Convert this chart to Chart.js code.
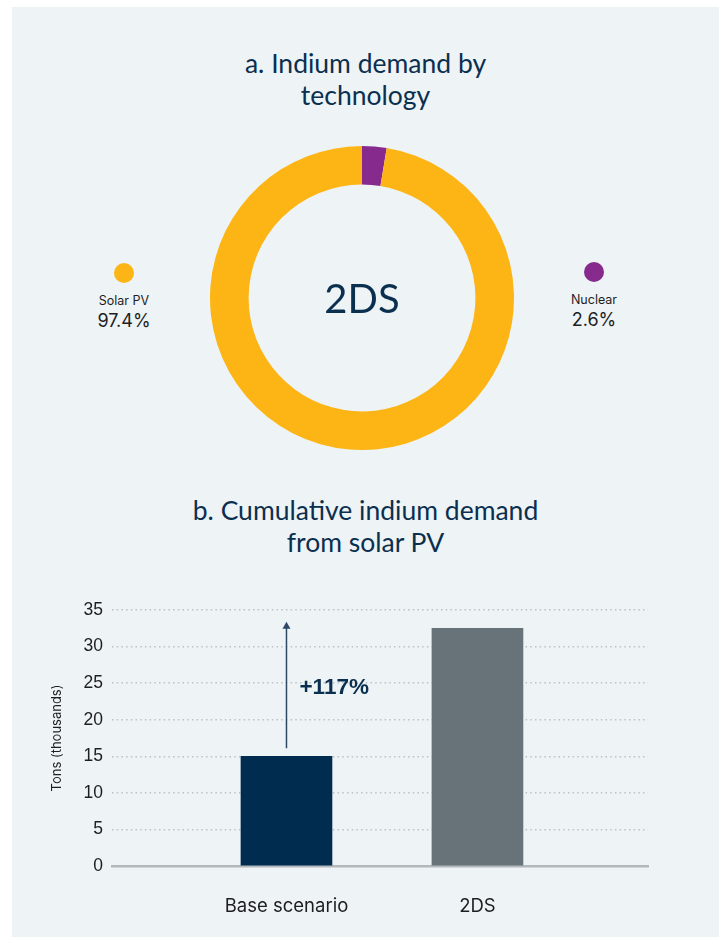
<!DOCTYPE html>
<html>
<head>
<meta charset="utf-8">
<script src="https://cdn.jsdelivr.net/npm/chart.js@4"></script>
<style>
  body { margin: 0; background: #fff; width: 719px; height: 937px; overflow: hidden; }
  #panel { position: absolute; left: 12px; top: 7px; width: 707px; height: 930px; background: #eef3f6; }
  .title { position: absolute; left: 0; width: 707px; text-align: center; font-family: Lato, sans-serif;
           font-size: 26.5px; line-height: 32px; color: #0b2f4f; }
  #donutWrap { position: absolute; left: 198px; top: 139px; width: 304px; height: 304px; }
  #centerText { position: absolute; left: 198px; top: 139px; width: 304px; height: 304px; line-height: 304px;
                text-align: center; font-family: Lato, sans-serif; font-size: 40px; color: #0b2f4f; }
  .leg { position: absolute; width: 120px; text-align: center; font-family: Inter, sans-serif; color: #1e1e1e; }
  .leg .dot { width: 20px; height: 20px; border-radius: 50%; margin: 0 auto; }
  .leg .name { font-size: 12.5px; margin-top: 10px; line-height: 16px; }
  .leg .pct { font-size: 18px; line-height: 22px; margin-top: 1px; }
  #barWrap { position: absolute; left: 0; top: 583px; width: 707px; height: 347px; }
</style>
</head>
<body>
<div id="panel">
  <div class="title" style="top:40px">a. Indium demand by<br>technology</div>
  <div id="donutWrap"><canvas id="donutChart"></canvas></div>
  <div id="centerText">2DS</div>
  <div id="legends"></div>
  <div class="title" style="top:487px">b. Cumulative indium demand<br>from solar PV</div>
  <div id="barWrap"><canvas id="barChart"></canvas></div>
</div>
<script>
// chart a: share of indium demand by technology, 2DS (%)
const techLabels = ['Nuclear', 'Solar PV'];
const techShares = [2.6, 97.4];
const techColors = ['#862a8e', '#fdb515'];

// chart b: cumulative indium demand from solar PV (thousand tons)
const scenarios = ['Base scenario', '2DS'];
const demand = [15.0, 32.5];
const barColors = ['#002d4f', '#687279'];
const yTicks = [0, 5, 10, 15, 20, 25, 30, 35];
const increaseLabel = '+117%';

// legend blocks, left/right of the ring
const legendPos = { 'Solar PV': { left: 52, top: 256 }, 'Nuclear': { left: 522, top: 255 } };
document.getElementById('legends').innerHTML = techLabels.map((name, i) =>
  `<div class="leg" style="left:${legendPos[name].left}px;top:${legendPos[name].top}px">
     <div class="dot" style="background:${techColors[i]}"></div>
     <div class="name">${name}</div>
     <div class="pct">${techShares[i]}%</div>
   </div>`).join('');

new Chart(document.getElementById('donutChart'), {
  type: 'doughnut',
  data: {
    labels: techLabels,
    datasets: [{ data: techShares, backgroundColor: techColors, borderWidth: 0 }]
  },
  options: {
    responsive: true,
    maintainAspectRatio: false,
    animation: false,
    cutout: '74.6%',
    plugins: { legend: { display: false }, tooltip: { enabled: false } }
  }
});

// arrow + label from base bar up to the 2DS level
const arrowPlugin = {
  id: 'arrow',
  afterDatasetsDraw(chart) {
    const { ctx, scales: { x, y } } = chart;
    const px = x.getPixelForValue(1);
    const y0 = y.getPixelForValue(demand[0] + 1.1);
    const y1 = y.getPixelForValue(demand[1] + 0.9);
    ctx.save();
    ctx.strokeStyle = '#2c4a66';
    ctx.fillStyle = '#2c4a66';
    ctx.lineWidth = 1.5;
    ctx.beginPath();
    ctx.moveTo(px, y0);
    ctx.lineTo(px, y1 + 4);
    ctx.stroke();
    ctx.beginPath();
    ctx.moveTo(px, y1);
    ctx.lineTo(px - 4, y1 + 7);
    ctx.lineTo(px + 4, y1 + 7);
    ctx.closePath();
    ctx.fill();
    ctx.fillStyle = '#0b2f4f';
    ctx.font = 'bold 22.5px "Liberation Sans", Arial, sans-serif';
    ctx.textBaseline = 'middle';
    ctx.fillText(increaseLabel, px + 13, y.getPixelForValue(24.4));
    ctx.restore();
  }
};

new Chart(document.getElementById('barChart'), {
  type: 'bar',
  data: {
    datasets: [{
      data: demand.map((v, i) => ({ x: i + 1, y: v })),
      backgroundColor: barColors,
      barThickness: 91
    }]
  },
  options: {
    responsive: true,
    maintainAspectRatio: false,
    animation: false,
    layout: { padding: { top: 20, right: 71, bottom: 0, left: 0 } },
    plugins: { legend: { display: false }, tooltip: { enabled: false } },
    scales: {
      x: {
        type: 'linear',
        offset: false,
        min: 0.0864,
        max: 2.893,
        afterBuildTicks: s => { s.ticks = scenarios.map((c, i) => ({ value: i + 1 })); },
        afterFit: s => { s.height = 71; },
        grid: { display: false, offset: false },
        border: { display: true, color: '#b3b8bc', width: 2.5 },
        ticks: {
          padding: 21,
          color: '#1e1e1e',
          font: { family: 'Inter', size: 18.5 },
          callback: v => scenarios[v - 1]
        }
      },
      y: {
        min: 0,
        max: 35,
        afterBuildTicks: s => { s.ticks = yTicks.map(v => ({ value: v })); },
        afterFit: s => { s.width = 100; },
        border: { display: false, dash: [1.5, 3.2] },
        grid: {
          drawTicks: false,
          lineWidth: 1.5,
          color: c => c.tick && c.tick.value === 0 ? 'rgba(0,0,0,0)' : '#bcc2c7'
        },
        ticks: {
          padding: 9,
          color: '#1e1e1e',
          font: { family: '"Liberation Sans", Arial, sans-serif', size: 17.5 }
        },
        title: {
          display: true,
          text: 'Tons (thousands)',
          color: '#1e1e1e',
          font: { family: 'Inter', size: 13 },
          padding: { top: 37, bottom: 0 }
        }
      }
    }
  },
  plugins: [arrowPlugin]
});
</script>
</body>
</html>
